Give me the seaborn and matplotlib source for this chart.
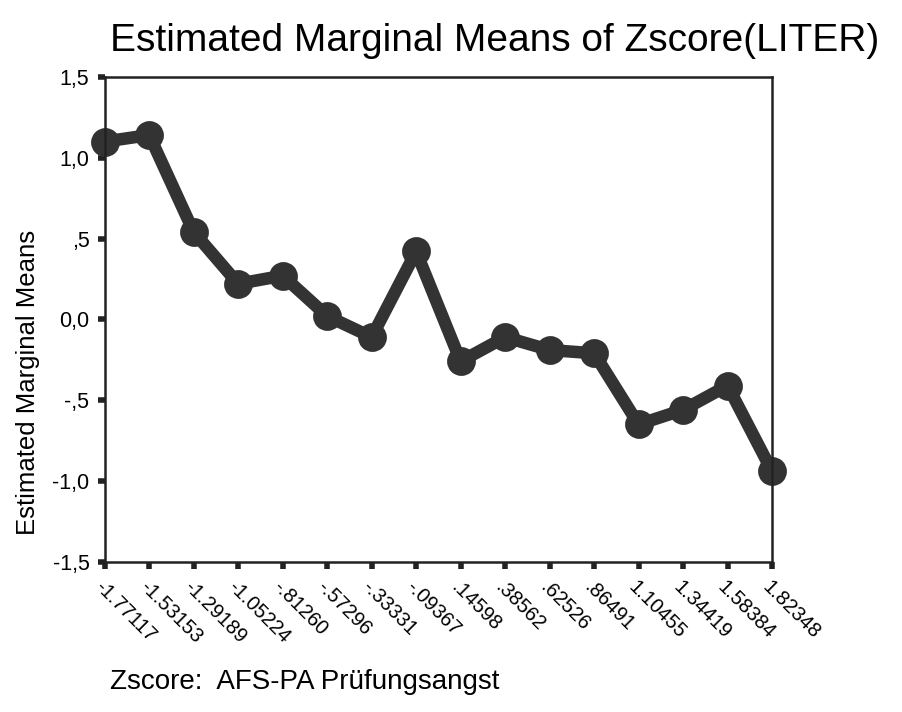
import matplotlib
matplotlib.use("Agg")
import matplotlib.pyplot as plt
import seaborn as sns
import pandas as pd

# Zscore categories (x) and estimated marginal means (y)
zscore_labels = ["-1.77117", "-1.53153", "-1.29189", "-1.05224", "-.81260", "-.57296",
                 "-.33331", "-.09367", ".14598", ".38562", ".62526", ".86491",
                 "1.10455", "1.34419", "1.58384", "1.82348"]
marginal_means = [1.10, 1.14, 0.54, 0.22, 0.27, 0.02, -0.11, 0.42,
                  -0.26, -0.11, -0.19, -0.21, -0.65, -0.56, -0.41, -0.94]
y_ticks = [1.5, 1.0, 0.5, 0.0, -0.5, -1.0, -1.5]
y_ticklabels = ["1,5", "1,0", ",5", "0,0", "-,5", "-1,0", "-1,5"]

df = pd.DataFrame({"zscore": zscore_labels, "mean": marginal_means})

sns.set_style("white")
plt.rcParams['font.family'] = ['Liberation Sans', 'DejaVu Sans']
plt.rcParams['text.color'] = 'black'
plt.rcParams['xtick.color'] = 'black'
plt.rcParams['ytick.color'] = 'black'
plt.rcParams['axes.labelcolor'] = 'black'

fig = plt.figure(figsize=(9.03, 7.12), dpi=100)
ax = fig.add_axes([0.116, 0.211, 0.739, 0.681])

sns.pointplot(data=df, x="zscore", y="mean", order=zscore_labels, color="#333333",
              markers="o", markersize=14, linewidth=9, ax=ax)
for art in ax.lines + ax.collections:
    art.set_clip_on(False)

ax.set_xlim(0, len(zscore_labels) - 1)
ax.set_ylim(-1.5, 1.5)
ax.set_yticks(y_ticks)
ax.set_yticklabels(y_ticklabels, fontsize=15.5)
ax.set_xticks(range(len(zscore_labels)))
ax.set_xticklabels(zscore_labels, rotation=-45, ha="left", va="top",
                   rotation_mode="anchor", fontsize=14.5)
ax.tick_params(axis="both", direction="out", length=5, width=4, color="#222222",
               bottom=True, left=True, pad=6)
for s in ax.spines.values():
    s.set_visible(True)
    s.set_linewidth(1.8)
    s.set_color("#222222")

ax.set_ylabel("Estimated Marginal Means", fontsize=18.5)
ax.yaxis.set_label_coords(-0.097, 0.37)
ax.set_xlabel("")
fig.text(0.122, 0.042, "Zscore:  AFS-PA Prüfungsangst", fontsize=20, ha="left", va="center")
fig.text(0.548, 0.943, "Estimated Marginal Means of Zscore(LITER)", fontsize=28,
         ha="center", va="center")

fig.savefig("out.png", dpi=100)
